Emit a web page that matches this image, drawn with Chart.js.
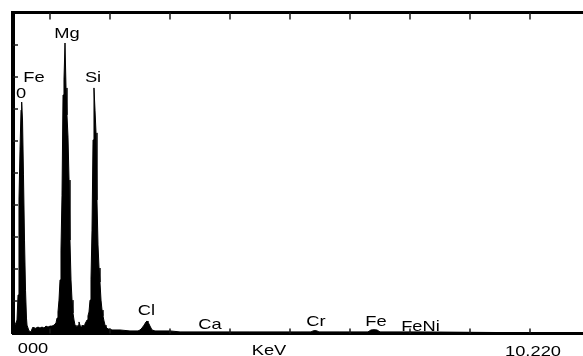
<!DOCTYPE html>
<html><head><meta charset="utf-8">
<script src="https://cdn.jsdelivr.net/npm/chart.js@4.4.1/dist/chart.umd.min.js"></script>
<style>html,body{margin:0;padding:0;background:#fff;overflow:hidden;} canvas{display:block;}</style>
</head><body>
<canvas id="c" width="583" height="356"></canvas>
<script>
// ---- data (energy in keV, counts in arbitrary units) ----
const energyKeV = [
  0.383,0.417,0.433,0.450,0.467,0.483,0.500,0.517,0.528,0.542,0.558,0.575,0.592,0.608,0.617,
  0.650,0.683,0.700,0.717,0.733,0.767,0.800,0.833,0.867,0.900,0.933,0.967,1.000,1.033,1.067,1.100,
  1.117,1.133,1.150,1.167,1.183,1.200,1.217,1.233,1.250,1.267,1.283,1.300,1.317,1.333,1.350,1.367,1.383,1.400,1.417,1.433,
  1.450,1.467,1.483,1.500,1.517,1.533,1.550,1.567,1.583,1.600,
  1.617,1.633,1.650,1.667,1.683,1.700,1.717,1.733,1.750,1.767,1.783,1.800,1.817,1.833,1.850,1.867,1.883,1.900,1.917,1.933,
  1.967,2.000,2.033,2.167,2.333,2.467,
  2.500,2.533,2.567,2.600,2.617,2.633,2.667,2.700,2.750,
  3.000,3.167,3.667,4.333,5.167,5.350,5.383,5.417,5.450,5.483,5.833,
  6.300,6.350,6.400,6.450,6.500,7.167,8.500,9.883
];
const counts = [
  20,26,26,42,120,416,572,696,721,665,494,291,135,48,26,
  8,5,14,20,14,17,20,17,20,17,23,20,23,23,26,33,
  48,67,104,167,260,431,743,790,905,765,681,612,478,291,167,104,64,42,26,20,
  20,26,36,26,20,26,23,26,30,36,
  42,55,67,104,167,322,603,765,696,625,416,276,204,160,104,73,55,39,26,20,
  14,14,11,11,8,8,
  11,17,26,36,39,36,23,11,8,
  8,5,5,5,5,5,8,9,8,5,5,
  5,11,12,11,5,5,3,3
];
const xTickKeV = [1,2,3,4,5,6,7,8,9];
const yTickCounts = [100,200,300,400,500,600,700,800,900];
const peakLabels = ['0','Fe','Mg','Si','Cl','Ca','Cr','Fe','FeNi'];
const axisLabels = ['000','KeV','10.220'];

// ---- layout (label anchors: keV of centre, counts of text baseline) ----
const peakLabelAnchor = [[0.517,733],[0.733,783],[1.283,920],[1.717,783],[2.608,58],[3.667,14],[5.433,23],[6.433,23],[7.175,8]];
const axisLabelAnchor = [[0.717,19.5],[4.65,21.5],[9.05,22.5]]; // keV, px below axis

const decor = {
  id: 'decor',
  afterDatasetsDraw(chart) {
    const {ctx, chartArea: a, scales: {x, y}} = chart;
    ctx.save();
    ctx.strokeStyle = '#1a1a1a';
    ctx.lineWidth = 1.5;
    xTickKeV.forEach(v => {
      const px = Math.round(x.getPixelForValue(v));
      ctx.beginPath(); ctx.moveTo(px, a.top); ctx.lineTo(px, a.top + 7); ctx.stroke();
      ctx.beginPath(); ctx.moveTo(px, a.bottom); ctx.lineTo(px, a.bottom - 5); ctx.stroke();
    });
    yTickCounts.forEach(v => {
      const py = Math.round(y.getPixelForValue(v));
      ctx.beginPath(); ctx.moveTo(a.left, py); ctx.lineTo(a.left + 5, py); ctx.stroke();
    });
    ctx.fillStyle = '#000';
    ctx.font = '15px "Liberation Sans", Arial, sans-serif';
    ctx.textAlign = 'center';
    ctx.textBaseline = 'alphabetic';
    const drawText = (t, cx, by) => {
      ctx.save(); ctx.translate(cx, by); ctx.scale(1.22, 1); ctx.fillText(t, 0, 0); ctx.restore();
    };
    peakLabels.forEach((t, i) => {
      const [e, c] = peakLabelAnchor[i];
      drawText(t, x.getPixelForValue(e), y.getPixelForValue(c));
    });
    axisLabels.forEach((t, i) => {
      const [e, off] = axisLabelAnchor[i];
      drawText(t, x.getPixelForValue(e), a.bottom + off);
    });
    ctx.restore();
  }
};

const axisCommon = {
  ticks: {display: false},
  grid: {display: true, drawOnChartArea: false, drawTicks: false},
};

new Chart(document.getElementById('c'), {
  type: 'line',
  data: {
    datasets: [{
      data: energyKeV.map((e, i) => ({x: e, y: counts[i]})),
      fill: 'origin',
      backgroundColor: '#000',
      borderColor: '#000',
      borderWidth: 1,
      pointRadius: 0,
      tension: 0
    }]
  },
  options: {
    responsive: false,
    animation: false,
    devicePixelRatio: 1,
    layout: {padding: {left: 13, top: 12.5, right: 0, bottom: 22.5}},
    plugins: {legend: {display: false}, tooltip: {enabled: false}},
    scales: {
      x: Object.assign({type: 'linear', position: 'bottom', min: 0.3833, max: 9.8833,
        border: {display: true, color: '#000', width: 3}}, axisCommon),
      x2: Object.assign({type: 'linear', position: 'top', min: 0.3833, max: 9.8833,
        border: {display: true, color: '#000', width: 3}}, axisCommon),
      y: Object.assign({type: 'linear', position: 'left', min: 0, max: 1000,
        border: {display: true, color: '#000', width: 4}}, axisCommon)
    }
  },
  plugins: [decor]
});
</script>
</body></html>
